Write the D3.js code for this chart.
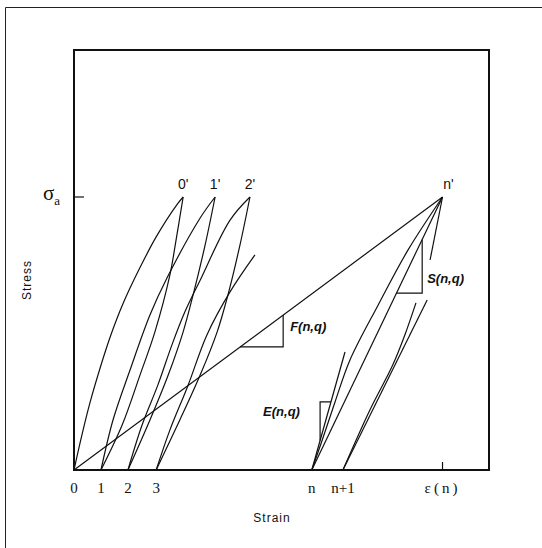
<!DOCTYPE html>
<html lang="en">
<head>
  <meta charset="UTF-8" />
  <title>Stress - Strain cyclic loops</title>
  <style>
    body { margin: 0; background: #fff; }
    svg { display: block; }
    .curve { fill: none; stroke: #111; stroke-width: 1.2; }
    .tick-lbl { font-family: 'Liberation Serif', 'DejaVu Serif', serif; font-size: 15px; fill: #111; }
    .peak-lbl { font-family: 'Liberation Sans', Arial, sans-serif; font-size: 14px; fill: #111; }
    .slope-lbl { font-family: 'Liberation Sans', Arial, sans-serif; font-size: 13px; font-weight: bold; font-style: italic; fill: #111; }
    .axis-title { font-family: 'Liberation Sans', Arial, sans-serif; font-size: 12px; fill: #111; letter-spacing: 1px; }
  </style>
</head>
<body>
<svg id="chart" width="542" height="548"></svg>
<script src="https://d3js.org/d3.v7.min.js"></script>
<script>
// strain / stress in arbitrary units (0..100 across the plot)
const sigmaA = 65;
const baseStrains = [0, 6.5, 13, 19.8, 57.3, 64.8];
const baseLabels = ["0", "1", "2", "3", "n", "n+1"];
const epsN = 88.8;
const peakStrains = [26.3, 34, 42.4, 88.8];
const peakLabels = ["0'", "1'", "2'", "n'"];

// curves, [strain, stress]
const load0 = [[0,0],[1.9,8.3],[3.9,16.2],[6.2,24],[8.8,31.9],[11.9,39.8],[15.6,47.6],[19.8,55.5],[24.9,63.3],[26.3,65]];
const unload0 = [[26.3,65],[24.6,54.8],[23.1,46.4],[19.5,32.9],[15.9,22.6],[11.6,10.7],[6.5,0]];
const reload1 = [[6.5,0],[9.4,11.9],[13.5,23.8],[18.3,36.9],[22.4,45.7],[30.4,60],[34,65]];
const unload1 = [[34,65],[31.6,53.6],[28.7,41.7],[26.3,32.9],[22.7,22.6],[18.3,11.9],[13,0]];
const reload2 = [[13,0],[16.4,10.7],[20.2,20.2],[23.6,29.8],[26.7,37.6],[30.4,45.2],[37.6,59.5],[42.4,65]];
const unload2 = [[42.4,65],[40,53.6],[37.1,41.7],[34.5,32.9],[30.4,22.6],[25.5,11.9],[19.8,0]];
const reload3 = [[19.8,0],[23.1,9.5],[27.5,20.2],[32,32.1],[37.6,42.4],[43.6,51.2]];
const reloadN = [[57.3,0],[59.8,7.1],[62.9,16.2],[66.5,26.2],[73.3,39.3],[80.5,52.4],[88.8,65]];
const reloadN1 = [[64.8,0],[71.3,14.3],[76.8,25],[79.7,32.1],[82.4,39.8]];

const straights = [
  [[0,0],[88.8,65]],        // secant F
  [[57.3,0],[88.8,65]],     // chord S
  [[57.3,0],[65.3,28.1]],   // tangent E
  [[88.8,65],[85.8,50]],    // unloading from n'
  [[64.8,0],[85.1,40.5]]    // n+1 tangent
];

// slope triangles
const triF = [[40,29.3],[50.4,29.3],[50.4,36.9]];
const triS = [[77.7,42.1],[83.9,42.1],[83.9,54.9]];
const triE = [[61.9,16.2],[59.3,16.2],[59.3,7.0]];

const svg = d3.select("#chart");
const x = d3.scaleLinear().domain([0, 100]).range([74, 489]);
const y = d3.scaleLinear().domain([0, 100]).range([470, 50]);

// outer border (top and left visible)
svg.append("path").attr("d", "M5.5,548V7.5H542").attr("fill", "none").attr("stroke", "#222").attr("stroke-width", 1);

// plot frame
svg.append("rect")
  .attr("x", x(0)).attr("y", y(100))
  .attr("width", x(100) - x(0)).attr("height", y(0) - y(100))
  .attr("fill", "none").attr("stroke", "#111").attr("stroke-width", 2);

const line = d3.line().x(d => x(d[0])).y(d => y(d[1])).curve(d3.curveCatmullRom);
const straight = d3.line().x(d => x(d[0])).y(d => y(d[1]));
const g = svg.append("g");
[load0, unload0, reload1, unload1, reload2, unload2, reload3, reloadN, reloadN1]
  .forEach(c => g.append("path").attr("class", "curve").attr("d", line(c)));
straights.forEach(c => g.append("path").attr("class", "curve").attr("d", straight(c)));
[triF, triS, triE].forEach(t => g.append("path").attr("class", "curve").attr("d", straight(t)));

// sigma_a tick and eps(n) tick
svg.append("line").attr("x1", x(0)).attr("x2", x(0) + 10).attr("y1", y(sigmaA)).attr("y2", y(sigmaA))
  .attr("stroke", "#111").attr("stroke-width", 1.2);
svg.append("line").attr("x1", x(epsN)).attr("x2", x(epsN)).attr("y1", y(0)).attr("y2", y(0) - 8)
  .attr("stroke", "#111").attr("stroke-width", 1.2);

// sigma_a label
const sl = svg.append("text").attr("class", "tick-lbl").attr("x", x(0) - 31).attr("y", y(sigmaA) + 3)
  .style("font-size", "21px");
sl.append("tspan").text("σ");
sl.append("tspan").attr("dy", 5).style("font-size", "13px").text("a");

// strain tick labels
svg.selectAll(".base-lbl").data(baseStrains).enter().append("text")
  .attr("class", "tick-lbl").attr("text-anchor", "middle")
  .attr("x", d => x(d)).attr("y", y(0) + 23)
  .text((d, i) => baseLabels[i]);
svg.append("text").attr("class", "tick-lbl").attr("text-anchor", "middle")
  .attr("x", x(epsN)).attr("y", y(0) + 23).style("letter-spacing", "3px").text("ε(n)");

// peak labels
svg.selectAll(".peak").data(peakStrains).enter().append("text")
  .attr("class", "peak-lbl").attr("text-anchor", "middle")
  .attr("x", (d, i) => x(d) + (i === 3 ? 6 : 0)).attr("y", y(sigmaA) - 8)
  .text((d, i) => peakLabels[i]);

// slope labels
svg.append("text").attr("class", "slope-lbl").attr("x", x(50.4) + 7).attr("y", y(29.3) - 16).text("F(n,q)");
svg.append("text").attr("class", "slope-lbl").attr("x", x(83.9) + 5).attr("y", y(42.1) - 10).text("S(n,q)");
svg.append("text").attr("class", "slope-lbl").attr("x", x(59.3) - 57).attr("y", y(16.2) + 14).text("E(n,q)");

// axis titles
svg.append("text").attr("class", "axis-title").attr("text-anchor", "middle")
  .attr("x", 272).attr("y", 522).text("Strain");
svg.append("text").attr("class", "axis-title").attr("text-anchor", "middle")
  .attr("transform", "translate(31,280) rotate(-90)").text("Stress");
</script>
</body>
</html>
